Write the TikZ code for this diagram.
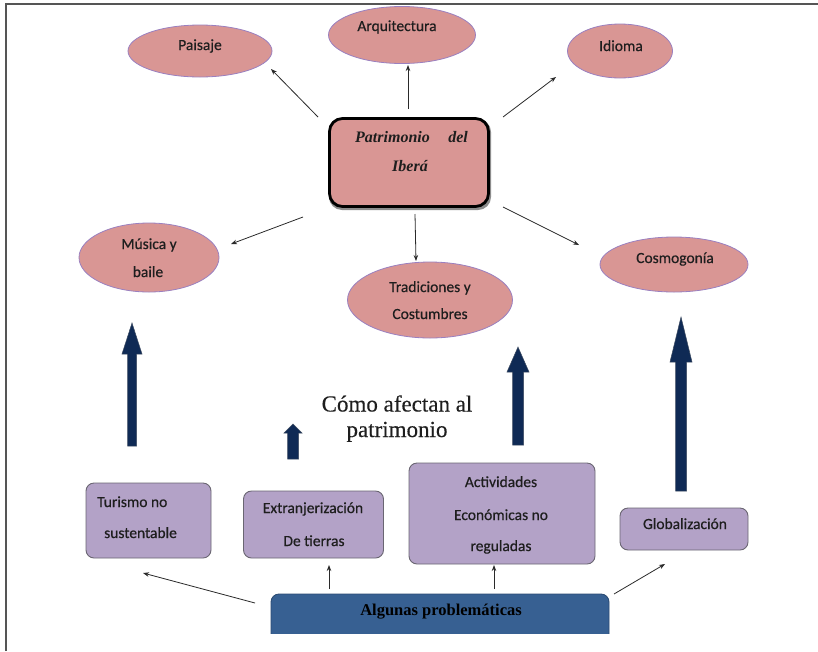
\documentclass[tikz,border=0pt]{standalone}
\usepackage{fontspec}
\setmainfont{Liberation Serif}
\newfontfamily\calib{Carlito}[FakeBold=0.5]
\newfontfamily\serifh{Liberation Serif}[FakeBold=0.3]
\usetikzlibrary{shapes.geometric,arrows.meta}
\definecolor{pinkfill}{HTML}{D99694}
\definecolor{ellborder}{HTML}{9A80C0}
\definecolor{lavfill}{HTML}{B3A2C7}
\definecolor{lavborder}{HTML}{6A6672}
\definecolor{algfill}{HTML}{376092}
\definecolor{algborder}{HTML}{2C4C74}
\definecolor{navy}{HTML}{0F2A55}
\definecolor{navyedge}{HTML}{3C4A60}
\definecolor{txt}{HTML}{1E1E1E}
\definecolor{arrowc}{HTML}{2A2A2A}
\definecolor{framec}{HTML}{555555}
\tikzset{
  ell/.style={ellipse, draw=ellborder, line width=0.8pt, fill=pinkfill, inner sep=0pt},
  lab/.style={font=\calib\fontsize{15.5}{18}\selectfont, text=txt, inner sep=0pt, anchor=base},
  lav/.style={rectangle, rounded corners=8pt, draw=lavborder, line width=0.9pt, fill=lavfill, inner sep=0pt},
  conn/.style={-{Stealth[length=6pt,width=4.5pt]}, line width=0.8pt, draw=arrowc},
  bigarrow/.style={fill=navy, draw=navyedge, line width=0.5pt},
  patfont/.style={font=\fontsize{16}{19}\selectfont\bfseries\itshape, text=txt, inner sep=0pt},
  titlefont/.style={font=\serifh\fontsize{23}{26}\selectfont, text=txt, inner sep=0pt, anchor=base},
}
\begin{document}
\begin{tikzpicture}[x=1pt,y=-1pt]
\useasboundingbox (0,0) rectangle (818,651);
\fill[white] (0,0) rectangle (818,651);
% frame
\draw[line width=1.3pt, framec] (6,651) -- (6,4) -- (818,4);

% top ellipses
\node[ell, minimum width=144pt, minimum height=52pt] (pai) at (200,51) {};
\node[ell, minimum width=147pt, minimum height=57pt] (arq) at (402,35) {};
\node[ell, minimum width=105pt, minimum height=54pt] (idi) at (620,51) {};
\node[lab] (paiT) at (200,50) {Paisaje};
\node[lab] (arqT) at (397,31) {Arquitectura};
\node[lab] (idiT) at (621,51) {Idioma};

% central box
\node[rectangle, rounded corners=13pt, fill=black!45, draw=none, minimum width=162pt, minimum height=91pt] (patS) at (410,164.5) {};
\node[rectangle, rounded corners=13pt, fill=pinkfill, draw=black, line width=2.8pt, minimum width=159pt, minimum height=88pt] (pat) at (409,162.5) {};
\node[patfont, anchor=base west] (patA) at (355,142) {Patrimonio};
\node[patfont, anchor=base east] (patB) at (468,142) {del};
\node[patfont, anchor=base] (patC) at (410,171) {Iberá};

% middle ellipses
\node[ell, minimum width=140pt, minimum height=69pt] (mus) at (149,257.5) {};
\node[ell, minimum width=165pt, minimum height=76pt] (tra) at (430,300) {};
\node[ell, minimum width=148pt, minimum height=55pt] (cos) at (674,264.5) {};
\node[lab] (musA) at (149,249) {Música y};
\node[lab] (musB) at (148,277) {baile};
\node[lab] (traA) at (430,292) {Tradiciones y};
\node[lab] (traB) at (430,319) {Costumbres};
\node[lab] (cosT) at (675,263) {Cosmogonía};

% connectors from central box
\draw[conn] ([shift={(-91,-45.5)}]pat.center) -- ([shift={(71,18)}]pai.center);
\draw[conn] ([shift={(-1,-53.5)}]pat.center) -- ([shift={(6,30)}]arq.center);
\draw[conn] ([shift={(94,-45.5)}]pat.center) -- ([shift={(-64,26)}]idi.center);
\draw[conn] ([shift={(-106,54.5)}]pat.center) -- ([shift={(82,-13.5)}]mus.center);
\draw[conn] ([shift={(6,51.5)}]pat.center) -- ([shift={(-14,-39)}]tra.center);
\draw[conn] ([shift={(94,44.5)}]pat.center) -- ([shift={(-95,-19.5)}]cos.center);

% big navy arrows
\path[bigarrow] (127.5,446) -- (127.5,354) -- (122,354) -- (132,323) -- (142,354) -- (136.5,354) -- (136.5,446) -- cycle;
\path[bigarrow] (287.5,459) -- (287.5,433) -- (284,433) -- (293,424) -- (302,433) -- (298.5,433) -- (298.5,459) -- cycle;
\path[bigarrow] (512.5,445) -- (512.5,372) -- (507,372) -- (518,347) -- (529,372) -- (523.5,372) -- (523.5,445) -- cycle;
\path[bigarrow] (675.5,491) -- (675.5,362) -- (670,362) -- (681,317) -- (692,362) -- (686.5,362) -- (686.5,491) -- cycle;

% title text
\node[titlefont] (comoA) at (397,411.5) {Cómo afectan al};
\node[titlefont] (comoB) at (397,437) {patrimonio};

% bottom boxes
\node[lav, minimum width=125pt, minimum height=75pt] (tur) at (148.5,520.5) {};
\node[lav, minimum width=140pt, minimum height=67pt] (ext) at (313.5,524.5) {};
\node[lav, minimum width=186pt, minimum height=101pt] (act) at (502,513.5) {};
\node[lav, minimum width=128pt, minimum height=42pt] (glo) at (684,529) {};
\node[lab, anchor=base west] (turA) at (97,507) {Turismo no};
\node[lab, anchor=base west] (turB) at (104,538) {sustentable};
\node[lab] (extA) at (313,513) {Extranjerización};
\node[lab] (extB) at (314,546) {De tierras};
\node[lab] (actA) at (501,487) {Actividades};
\node[lab] (actB) at (501,520) {Económicas no};
\node[lab] (actC) at (501,551) {reguladas};
\node[lab] (gloT) at (685,529) {Globalización};

% bottom base box (cut off at the bottom)
\begin{scope}
\clip (0,0) rectangle (818,633);
\node[rectangle, rounded corners=8pt, fill=algfill, draw=algborder, line width=0.9pt, minimum width=338pt, minimum height=50pt, inner sep=0pt] (alg) at (440,619) {};
\end{scope}
\node[font=\fontsize{16.5}{19}\selectfont\bfseries, text=black, inner sep=0pt, anchor=base] (algT) at (441,615) {Algunas problemáticas};

% connectors from base box
\draw[conn] ([shift={(-185,-16)}]alg.center) -- ([shift={(-5.5,52.5)}]tur.center);
\draw[conn] ([shift={(-111,-30)}]alg.center) -- ([shift={(15.5,40.5)}]ext.center);
\draw[conn] ([shift={(54,-30)}]alg.center) -- ([shift={(-8,51.5)}]act.center);
\draw[conn] ([shift={(174,-25)}]alg.center) -- ([shift={(-19,35)}]glo.center);
\end{tikzpicture}
\end{document}
